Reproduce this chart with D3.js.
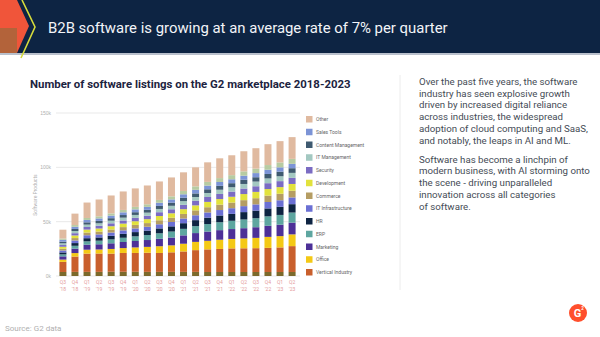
<!DOCTYPE html>
<html>
<head>
<meta charset="utf-8">
<script src="https://cdn.jsdelivr.net/npm/d3@7"></script>
<style>
  html, body { margin: 0; padding: 0; background: #fff; }
  svg { display: block; font-family: Roboto, "Open Sans", sans-serif; }
</style>
</head>
<body>
<svg id="slide" width="600" height="337"></svg>
<script>
// quarters on the x axis
const quarters = ["Q3 '18","Q4 '18","Q1 '19","Q2 '19","Q3 '19","Q4 '19","Q1 '20","Q2 '20","Q3 '20","Q4 '20",
                  "Q1 '21","Q2 '21","Q3 '21","Q4 '21","Q1 '22","Q2 '22","Q3 '22","Q4 '22","Q1 '23","Q2 '23"];

// listings per category, in thousands (bottom of the stack first)
const design       = [3.7,3.8,3.8,3.8,3.9,3.9,3.9,3.8,3.8,3.8,3.8,3.8,3.7,3.7,3.7,3.7,3.7,3.7,3.7,3.7];
const vertical     = [9.3,14.1,16.8,16.9,16.7,17.3,17.3,17.6,17.4,18.0,18.8,20.0,20.8,21.2,21.7,21.8,21.9,22.2,22.6,23.8];
const office       = [2.1,3.2,3.6,3.7,4.3,4.5,5.1,5.4,6.2,6.4,7.1,7.6,7.9,8.5,8.7,9.1,9.5,10.1,10.4,10.8];
const marketing    = [3.0,4.1,4.6,4.8,5.2,5.6,5.9,6.3,6.8,7.2,7.7,8.1,8.5,8.8,9.1,9.4,9.8,10.2,10.5,10.8];
const erp          = [1.8,2.6,3.1,3.3,3.6,3.9,4.3,4.6,5.1,5.5,6.0,6.4,6.9,7.3,7.6,8.0,8.3,8.7,9.0,9.3];
const hr           = [1.8,2.5,2.9,3.0,3.3,3.6,3.9,4.1,4.5,4.8,5.2,5.5,5.9,6.2,6.4,6.8,7.0,7.3,7.5,7.7];
const itInfra      = [1.8,2.4,2.7,2.8,3.0,3.2,3.4,3.5,3.8,4.0,4.3,4.5,4.8,5.0,5.2,5.5,5.7,5.9,6.0,6.2];
const commerce     = [1.6,2.2,2.5,2.6,2.8,3.0,3.2,3.4,3.7,3.9,4.2,4.5,4.8,5.0,5.2,5.5,5.7,5.9,6.0,6.2];
const development  = [1.8,2.4,2.7,2.8,3.0,3.2,3.4,3.6,3.9,4.1,4.4,4.6,4.9,5.1,5.3,5.6,5.8,6.0,6.1,6.2];
const security     = [1.6,2.1,2.4,2.5,2.7,2.9,3.1,3.2,3.5,3.7,4.0,4.2,4.5,4.7,4.8,5.1,5.2,5.4,5.5,5.6];
const itMgmt       = [1.6,2.0,2.2,2.3,2.4,2.6,2.7,2.8,3.0,3.2,3.4,3.5,3.7,3.9,4.0,4.2,4.3,4.4,4.5,4.6];
const contentMgmt  = [1.5,1.9,2.1,2.2,2.3,2.4,2.5,2.6,2.8,2.9,3.1,3.3,3.4,3.6,3.7,3.9,4.0,4.1,4.2,4.3];
const salesTools   = [1.7,2.0,2.2,2.3,2.4,2.5,2.6,2.7,2.9,3.0,3.2,3.3,3.4,3.5,3.6,3.7,3.8,3.9,4.0,4.0];
const analytics    = [1.2,1.6,1.8,1.9,2.0,2.2,2.3,2.4,2.6,2.8,3.0,3.2,3.4,3.6,3.8,4.0,4.1,4.3,4.5,4.6];
const other        = [8.1,10.5,14.2,15.5,16.5,17.0,17.0,17.3,17.0,17.4,17.2,17.5,18.0,18.2,18.3,18.5,18.8,19.2,19.6,20.0];

const series = [
  {key: "Design", values: design, color: "#7b6a2c"},
  {key: "Vertical Industry", values: vertical, color: "#c95f2c"},
  {key: "Office", values: office, color: "#f4c915"},
  {key: "Marketing", values: marketing, color: "#4d3097"},
  {key: "ERP", values: erp, color: "#5ea6a0"},
  {key: "HR", values: hr, color: "#0e2442"},
  {key: "IT Infrastructure", values: itInfra, color: "#6b70d4"},
  {key: "Commerce", values: commerce, color: "#b59d63"},
  {key: "Development", values: development, color: "#e2e23c"},
  {key: "Security", values: security, color: "#7b6cc3"},
  {key: "IT Management", values: itMgmt, color: "#a3c8c1"},
  {key: "Content Management", values: contentMgmt, color: "#3f5a70"},
  {key: "Sales Tools", values: salesTools, color: "#7c94d6"},
  {key: "Analytics", values: analytics, color: "#b7cba2"},
  {key: "Other", values: other, color: "#e0baa0"}
];

// legend entries, top to bottom
const legendKeys = ["Other","Sales Tools","Content Management","IT Management","Security","Development",
                    "Commerce","IT Infrastructure","HR","ERP","Marketing","Office","Vertical Industry"];

const yTicks = [0, 50, 100, 150];

const paragraphs = [
  ["Over the past five years, the software", "industry has seen explosive growth",
   "driven by increased digital reliance", "across industries, the widespread",
   "adoption of cloud computing and SaaS,", "and notably, the leaps in AI and ML."],
  ["Software has become a linchpin of", "modern business, with AI storming onto",
   "the scene - driving unparalleled", "innovation across all categories", "of software."]
];

const svg = d3.select("#slide");

// header band
svg.append("rect").attr("x", 0).attr("y", 0).attr("width", 600).attr("height", 53).attr("fill", "#0d2443");
svg.append("rect").attr("x", 0).attr("y", 53).attr("width", 600).attr("height", 2).attr("fill", "#b9c0cc");
svg.append("path").attr("d", "M0,0 L17,0 L29,26 L17,53 L0,53 Z").attr("fill", "#f0553a");
svg.append("path").attr("d", "M0,28 L17,28 L17,53 L0,53 Z").attr("fill", "#8a6d3a").attr("opacity", 0.6);
svg.append("path").attr("d", "M22,0 L35,27 L21,58").attr("fill", "none").attr("stroke", "#d6dc3c").attr("stroke-width", 1.6);
svg.append("text").attr("x", 48).attr("y", 33).attr("fill", "#f2f4f8")
  .style("font-size", "14.9px").text("B2B software is growing at an average rate of 7% per quarter");

// chart title
svg.append("text").attr("x", 30).attr("y", 88).attr("fill", "#1c2340")
  .style("font-size", "11.4px").style("font-weight", "700")
  .text("Number of software listings on the G2 marketplace 2018-2023");

// scales
const x = d3.scaleBand().domain(quarters).range([57, 298]).paddingInner(0.42).paddingOuter(0.2);
const y = d3.scaleLinear().domain([0, 150]).range([276, 113]);

// gridlines and y labels
const grid = svg.append("g");
grid.selectAll("line").data(yTicks).join("line")
  .attr("x1", 56).attr("x2", 300)
  .attr("y1", d => y(d)).attr("y2", d => y(d))
  .attr("stroke", "#e3e3e3").attr("stroke-width", 0.8);

const yAxis = d3.axisLeft(y).tickValues(yTicks).tickSize(0).tickFormat(d => d + "k");
svg.append("g").attr("transform", "translate(54,0)").call(yAxis)
  .call(g => g.select(".domain").remove())
  .call(g => g.selectAll("text").attr("fill", "#b0b0b0").style("font-size", "5px").attr("dy", "0.32em"));

svg.append("text").attr("transform", "translate(37,195) rotate(-90)")
  .attr("text-anchor", "middle").attr("fill", "#b0b0b0").style("font-size", "5px")
  .text("Software Products");

// stacked bars
const table = quarters.map((q, i) => {
  const row = {quarter: q};
  series.forEach(s => { row[s.key] = s.values[i]; });
  return row;
});
const stack = d3.stack().keys(series.map(s => s.key));
const layers = stack(table);
const colorOf = d3.scaleOrdinal().domain(series.map(s => s.key)).range(series.map(s => s.color));

svg.append("g").selectAll("g").data(layers).join("g")
  .attr("fill", d => colorOf(d.key))
  .selectAll("rect").data(d => d).join("rect")
  .attr("x", d => x(d.data.quarter))
  .attr("width", x.bandwidth())
  .attr("y", d => y(d[1]))
  .attr("height", d => y(d[0]) - y(d[1]));

// x labels on two lines
const xLab = svg.append("g").selectAll("text").data(quarters).join("text")
  .attr("x", d => x(d) + x.bandwidth() / 2)
  .attr("y", 284)
  .attr("text-anchor", "middle").attr("fill", "#e59b9b").style("font-size", "5px");
xLab.append("tspan").attr("x", d => x(d) + x.bandwidth() / 2).text(d => d.split(" ")[0]);
xLab.append("tspan").attr("x", d => x(d) + x.bandwidth() / 2).attr("dy", 7).text(d => d.split(" ")[1]);

// legend
const legend = svg.append("g").selectAll("g").data(legendKeys).join("g")
  .attr("transform", (d, i) => "translate(306," + (116 + i * 12.75) + ")");
legend.append("rect").attr("width", 6.5).attr("height", 6.5).attr("fill", d => colorOf(d));
legend.append("text").attr("x", 10).attr("y", 3.3).attr("dy", "0.35em")
  .attr("fill", "#666").style("font-size", "5px").text(d => d);

// divider
svg.append("line").attr("x1", 400).attr("x2", 400).attr("y1", 75).attr("y2", 290)
  .attr("stroke", "#ececec").attr("stroke-width", 1);

// commentary text
let lineY = 85;
paragraphs.forEach(p => {
  p.forEach(line => {
    svg.append("text").attr("x", 419).attr("y", lineY).attr("fill", "#444b55")
      .style("font-size", "9.7px").text(line);
    lineY += 11.7;
  });
  lineY += 7.5;
});

// source note
svg.append("text").attr("x", 5).attr("y", 331).attr("fill", "#b0b0b0")
  .style("font-size", "8px").text("Source: G2 data");

// logo badge
svg.append("circle").attr("cx", 578).attr("cy", 313).attr("r", 9).attr("fill", "#ff4f2c");
svg.append("text").attr("x", 577.5).attr("y", 317).attr("text-anchor", "middle")
  .attr("fill", "#fff").style("font-size", "11px").style("font-weight", "700").text("G");
svg.append("text").attr("x", 582.5).attr("y", 309.5).attr("text-anchor", "middle")
  .attr("fill", "#fff").style("font-size", "4.5px").style("font-weight", "700").text("2");
</script>
</body>
</html>
